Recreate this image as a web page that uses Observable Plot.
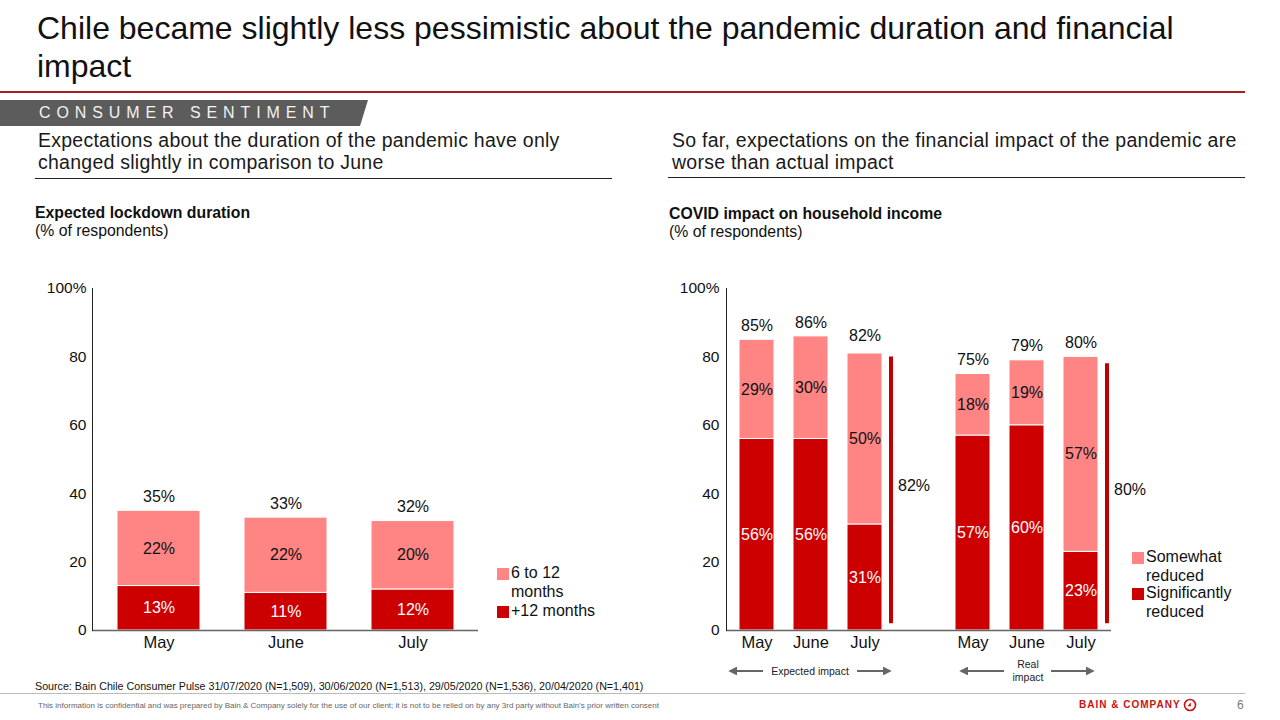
<!DOCTYPE html>
<html><head><meta charset="utf-8">
<script src="https://cdn.jsdelivr.net/npm/d3@7"></script>
<script src="https://cdn.jsdelivr.net/npm/@observablehq/plot@0.6"></script>
<style>
html,body{margin:0;padding:0;background:#fff}
body{width:1280px;height:720px;position:relative;overflow:hidden;font-family:"Liberation Sans",Arial,Helvetica,sans-serif;color:#111}
.abs{position:absolute;white-space:nowrap}
.sw{position:absolute;width:12px;height:12px}
</style></head><body>

<div class="abs" style="left:37px;top:9px;font-size:32px;line-height:38px;color:#111">Chile became slightly less pessimistic about the pandemic duration and financial<br>impact</div>
<div class="abs" style="left:0;top:91px;width:1245px;height:2px;background:#a41e1e"></div>
<div class="abs" style="left:0;top:100px;width:368px;height:26px;background:#5c5c5c;clip-path:polygon(0 0,100% 0,calc(100% - 8px) 100%,0 100%)"></div>
<div class="abs" style="left:39px;top:100px;height:26px;line-height:26px;font-size:16px;letter-spacing:5.9px;color:#f2f2f2">CONSUMER SENTIMENT</div>

<div class="abs" style="left:38px;top:130px;font-size:19.5px;line-height:21.5px;color:#1a1a1a;letter-spacing:0.25px">Expectations about the duration of the pandemic have only<br>changed slightly in comparison to June</div>
<div class="abs" style="left:35px;top:178px;width:577px;height:1px;background:#222"></div>
<div class="abs" style="left:672px;top:130px;font-size:19.5px;line-height:21.5px;color:#1a1a1a;letter-spacing:0.25px">So far, expectations on the financial impact of the pandemic are<br>worse than actual impact</div>
<div class="abs" style="left:668px;top:177px;width:577px;height:1px;background:#222"></div>

<div class="abs" style="left:35px;top:204px;font-size:15.8px;line-height:18px"><b>Expected lockdown duration</b><br>(% of respondents)</div>
<div class="abs" style="left:669px;top:205px;font-size:15.8px;line-height:18px"><b>COVID impact on household income</b><br>(% of respondents)</div>

<div id="leftChart" class="abs" style="left:0;top:270px"></div>
<div id="rightChart" class="abs" style="left:640px;top:270px"></div>

<div id="legL"></div>
<div id="legR"></div>

<svg class="abs" style="left:700px;top:650px" width="420" height="40">
  <defs><marker id="ah" viewBox="0 0 10 10" refX="8" refY="5" markerWidth="4" markerHeight="4" orient="auto-start-reverse"><path d="M0,0L10,5L0,10z" fill="#666"/></marker></defs>
  <g stroke="#666" stroke-width="2.2">
    <line x1="63" y1="21" x2="30" y2="21" marker-end="url(#ah)"/>
    <line x1="157" y1="21" x2="190" y2="21" marker-end="url(#ah)"/>
    <line x1="304" y1="21" x2="261" y2="21" marker-end="url(#ah)"/>
    <line x1="351" y1="21" x2="393" y2="21" marker-end="url(#ah)"/>
  </g>
  <g font-size="10.5" fill="#222" text-anchor="middle" font-family="Liberation Sans, Arial, sans-serif">
    <text x="110" y="24.5">Expected impact</text>
    <text x="328" y="17.5">Real</text>
    <text x="328" y="31">impact</text>
  </g>
</svg>

<div class="abs" style="left:35px;top:680px;font-size:10.7px;color:#111">Source: Bain Chile Consumer Pulse 31/07/2020 (N=1,509), 30/06/2020 (N=1,513), 29/05/2020 (N=1,536), 20/04/2020 (N=1,401)</div>
<div class="abs" style="left:0;top:693px;width:1245px;height:1px;background:#bbb"></div>
<div class="abs" style="left:38px;top:701px;font-size:8px;color:#666">This information is confidential and was prepared by Bain &amp; Company solely for the use of our client; it is not to be relied on by any 3rd party without Bain's prior written consent</div>
<div class="abs" style="left:1079px;top:699px;font-size:10px;font-weight:bold;letter-spacing:1px;color:#cc1111">BAIN &amp; COMPANY</div>
<svg class="abs" style="left:1183px;top:698px" width="14" height="14"><circle cx="7" cy="7" r="5.5" fill="none" stroke="#cc1111" stroke-width="1.6"/><path d="M4.5,8.2L7.8,4.2L7.8,8.2z" fill="#cc1111"/></svg>
<div class="abs" style="left:1237px;top:698px;font-size:12px;color:#777">6</div>

<script>
// ---------- data ----------
const months = ["May", "June", "July"];
const lockdownSeries = ["+12 months", "6 to 12 months"];
const lockOver12 = [13, 11, 12];
const lock6to12 = [22, 22, 20];
const lockTotals = [35, 33, 32];

const incomeGroups = ["Expected", "Real"];
const incomeSeries = ["Significantly reduced", "Somewhat reduced"];
const expectedSignificant = [56, 56, 31];
const expectedSomewhat = [29, 30, 50];
const expectedTotals = [85, 86, 82];
const realSignificant = [57, 60, 23];
const realSomewhat = [18, 19, 57];
const realTotals = [75, 79, 80];
const groupTotals = [82, 80];

const yTicks = [0, 20, 40, 60, 80, 100];

// ---------- styling ----------
const DARK = "#cc0000", LIGHT = "#ff8585", BRACKET = "#c00000";
const FONT = "Liberation Sans, Arial, sans-serif";
const LABEL_SIZE = 16;
const yFmt = d => d === 100 ? "100%" : String(d);

// ---------- left chart ----------
const lockRows = [];
months.forEach((m, i) => {
  lockRows.push({month: m, series: lockdownSeries[0], value: lockOver12[i]});
  lockRows.push({month: m, series: lockdownSeries[1], value: lock6to12[i]});
});
const lockTotalRows = months.map((m, i) => ({month: m, total: lockTotals[i]}));

const left = Plot.plot({
  width: 640, height: 390,
  marginLeft: 92, marginRight: 162, marginTop: 18, marginBottom: 30,
  style: {fontFamily: FONT, fontSize: "14px", color: "#111", background: "transparent", overflow: "visible"},
  x: {domain: months, paddingInner: 0.35, paddingOuter: 0.185, axis: null},
  y: {domain: [0, 100], axis: null},
  color: {domain: lockdownSeries, range: [DARK, LIGHT]},
  marks: [
    Plot.barY(lockRows, {x: "month", y: "value", fill: "series", stroke: "white", strokeWidth: 1}),
    Plot.text(lockRows, Plot.stackY({x: "month", y: "value", z: "series", text: d => d.series === lockdownSeries[0] ? d.value + "%" : "", fill: "white", fontSize: LABEL_SIZE})),
    Plot.text(lockRows, Plot.stackY({x: "month", y: "value", z: "series", text: d => d.series === lockdownSeries[1] ? d.value + "%" : "", fill: "#111", fontSize: LABEL_SIZE})),
    Plot.text(lockTotalRows, {x: "month", y: "total", text: d => d.total + "%", dy: -14, fill: "#111", fontSize: LABEL_SIZE}),
    Plot.ruleY([0], {stroke: "#666", strokeWidth: 1.5}),
    Plot.frame({anchor: "left", stroke: "#222", strokeWidth: 1}),
    Plot.axisY({ticks: yTicks, tickFormat: yFmt, tickSize: 0, tickPadding: 6, fontSize: 15.5, label: null}),
    Plot.axisX({tickSize: 0, tickPadding: 6, fontSize: 16.5, label: null})
  ]
});
document.getElementById("leftChart").appendChild(left);

// ---------- right chart ----------
const slotKeys = [];
incomeGroups.forEach((g, gi) => {
  if (gi > 0) slotKeys.push("gap");
  months.forEach(m => slotKeys.push(g + " " + m));
});
const incRows = [];
const incTotalRows = [];
const sigs = [expectedSignificant, realSignificant];
const somes = [expectedSomewhat, realSomewhat];
const tots = [expectedTotals, realTotals];
incomeGroups.forEach((g, gi) => {
  months.forEach((m, i) => {
    const key = g + " " + m;
    incRows.push({key, series: incomeSeries[0], value: sigs[gi][i]});
    incRows.push({key, series: incomeSeries[1], value: somes[gi][i]});
    incTotalRows.push({key, total: tots[gi][i]});
  });
});
const bracketRows = incomeGroups.map((g, gi) => ({key: g + " " + months[months.length - 1], total: groupTotals[gi]}));

const right = Plot.plot({
  width: 640, height: 390,
  marginLeft: 86, marginRight: 169, marginTop: 18, marginBottom: 30,
  style: {fontFamily: FONT, fontSize: "14px", color: "#111", background: "transparent", overflow: "visible"},
  x: {domain: slotKeys, paddingInner: 0.36, paddingOuter: 0.21, axis: null},
  y: {domain: [0, 100], axis: null},
  color: {domain: incomeSeries, range: [DARK, LIGHT]},
  marks: [
    Plot.barY(incRows, {x: "key", y: "value", fill: "series", stroke: "white", strokeWidth: 1}),
    Plot.text(incRows, Plot.stackY({x: "key", y: "value", z: "series", text: d => d.series === incomeSeries[0] ? d.value + "%" : "", fill: "white", fontSize: LABEL_SIZE})),
    Plot.text(incRows, Plot.stackY({x: "key", y: "value", z: "series", text: d => d.series === incomeSeries[1] ? d.value + "%" : "", fill: "#111", fontSize: LABEL_SIZE})),
    Plot.text(incTotalRows, {x: "key", y: "total", text: d => d.total + "%", dy: -14, fill: "#111", fontSize: LABEL_SIZE}),
    Plot.ruleX(bracketRows, {x: "key", y1: 2, y2: d => d.total - 2, dx: 26, stroke: BRACKET, strokeWidth: 4}),
    Plot.text(bracketRows, {x: "key", y: d => d.total / 2, text: d => d.total + "%", dx: 33, dy: -4, textAnchor: "start", fill: "#111", fontSize: LABEL_SIZE}),
    Plot.ruleY([0], {stroke: "#666", strokeWidth: 1.5}),
    Plot.frame({anchor: "left", stroke: "#222", strokeWidth: 1}),
    Plot.axisY({ticks: yTicks, tickFormat: yFmt, tickSize: 0, tickPadding: 7, fontSize: 15.5, label: null}),
    Plot.axisX({tickSize: 0, tickPadding: 6, fontSize: 16.5, label: null, tickFormat: d => d === "gap" ? "" : d.split(" ")[1]})
  ]
});
document.getElementById("rightChart").appendChild(right);

// ---------- legends (HTML) ----------
function legend(id, x, items) {
  const host = document.getElementById(id);
  let html = "";
  items.forEach(it => {
    html += `<div class="sw" style="left:${x}px;top:${it.top}px;background:${it.color}"></div>`;
    html += `<div class="abs" style="left:${x + 14}px;top:${it.top - 4}px;font-size:16px;line-height:18.5px;color:#111">${it.label}</div>`;
  });
  host.innerHTML = html;
}
legend("legL", 497, [
  {color: LIGHT, label: "6 to 12<br>months", top: 568},
  {color: DARK, label: "+12 months", top: 606}
]);
legend("legR", 1132, [
  {color: LIGHT, label: "Somewhat<br>reduced", top: 552},
  {color: DARK, label: "Significantly<br>reduced", top: 588}
]);
</script>
</body></html>
